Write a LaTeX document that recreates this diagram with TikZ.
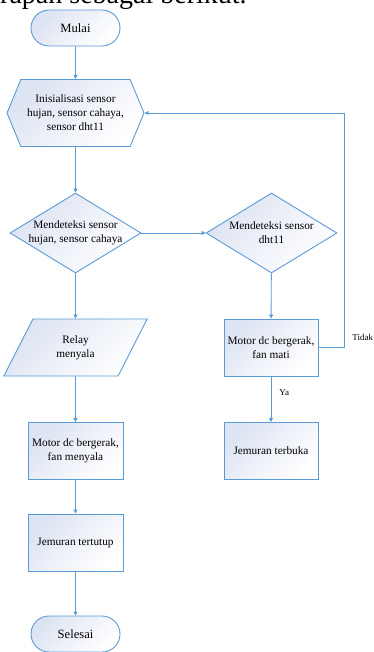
\documentclass[tikz,border=0pt]{standalone}
\usepackage{fontspec}
\setmainfont{Liberation Serif}
\usetikzlibrary{shapes.geometric,shapes.symbols,arrows.meta}
\definecolor{lineblue}{HTML}{5B9BD5}
\definecolor{shadeblue}{HTML}{DCE3F2}

\begin{document}
\begin{tikzpicture}[x=1pt, y=-1pt,
    base/.style={draw=lineblue, line width=0.9pt, top color=shadeblue, bottom color=white, shading angle=45, align=center, font=\fontsize{11.3}{14}\selectfont, inner sep=2pt},
    term/.style={base, rounded corners=18pt, minimum width=89pt, minimum height=36pt, font=\fontsize{12.6}{14}\selectfont},
    prep/.style={base, signal, signal to=west and east, signal pointer angle=135, minimum width=137pt, minimum height=67pt},
    decision/.style={base, diamond, minimum width=131pt, minimum height=80pt, inner sep=0pt},
    dtext/.style={font=\fontsize{11.3}{14}\selectfont, align=center},
    io/.style={base, trapezium, trapezium left angle=63, trapezium right angle=117, minimum width=123pt, minimum height=57pt},
    proc/.style={base, rectangle, minimum width=95pt, minimum height=57pt},
    lbl/.style={font=\fontsize{9}{10}\selectfont, inner sep=0pt},
    arr/.style={-{Triangle[length=4pt,width=4pt]}, draw=lineblue, line width=0.9pt}
]
    \useasboundingbox (0,0) rectangle (373,652);
    \clip (0,0) rectangle (373,652);
    \node[anchor=base west, inner sep=0pt, font=\fontsize{28}{30}\selectfont] (head) at (0,3.5) {rapan sebagai berikut.};

    \node[term] (start) at (75.5,28) {Mulai};
    \node[prep] (init) at (75.5,113) {Inisialisasi sensor\\hujan, sensor cahaya,\\sensor dht11};
    \node[decision, label={[dtext]center:Mendeteksi sensor\\hujan, sensor cahaya}] (dec1) at (75.5,233) {};
    \node[decision, label={[dtext]center:Mendeteksi sensor\\dht11}] (dec2) at (271.5,233) {};
    \node[io] (relay) at (75.5,347.5) {Relay\\menyala};
    \node[proc, minimum width=94pt] (fanoff) at (271,347.5) {Motor dc bergerak,\\fan mati};
    \node[proc] (fanon) at (75.5,451) {Motor dc bergerak,\\fan menyala};
    \node[proc, minimum width=94pt] (open) at (271,451) {Jemuran terbuka};
    \node[proc] (closed) at (75.5,542.5) {Jemuran tertutup};
    \node[term] (stop) at (75.5,634) {Selesai};
    \coordinate (back) at (344,347.5);

    \draw[arr] (start) -- (init);
    \draw[arr] (init) -- (dec1);
    \draw[arr] (dec1.east) -- (dec2.west);
    \draw[arr] (dec1) -- (relay);
    \draw[arr] (dec2) -- (fanoff);
    \draw[arr] (fanoff.east) -- (back) node[lbl, anchor=base west, xshift=8pt, yshift=7pt] {Tidak} |- (init.east);
    \draw[arr] (fanoff) -- node[lbl, right, pos=0.35, xshift=8pt] {Ya} (open);
    \draw[arr] (relay) -- (fanon);
    \draw[arr] (fanon) -- (closed);
    \draw[arr] (closed) -- (stop);
\end{tikzpicture}
\end{document}
